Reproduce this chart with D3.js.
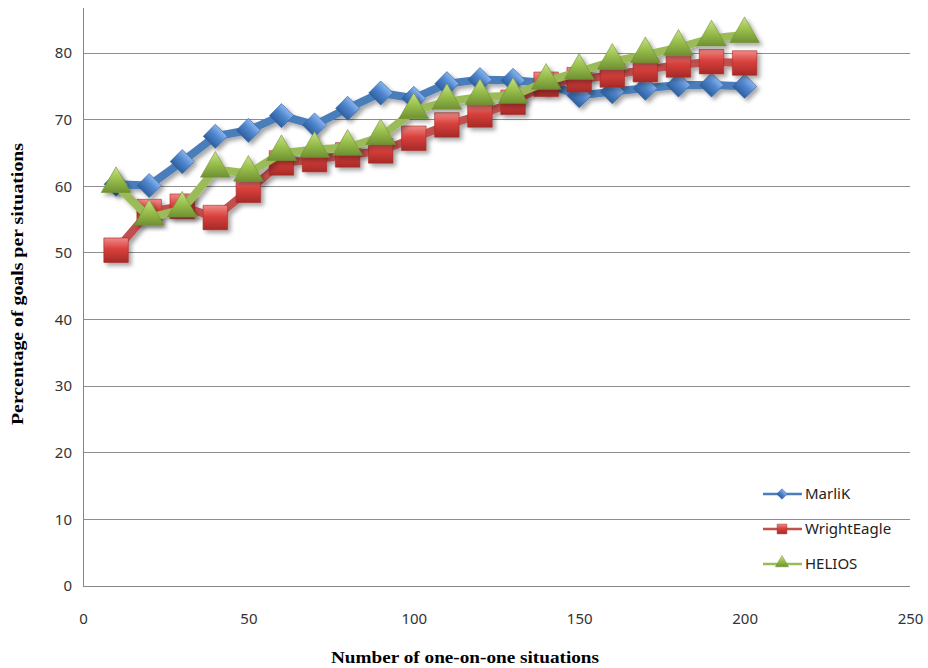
<!DOCTYPE html>
<html><head><meta charset="utf-8">
<script src="https://cdn.jsdelivr.net/npm/d3@7"></script>
<style>body{margin:0;background:#fff}svg{display:block}</style>
</head><body>
<script>
const xValues = [10,20,30,40,50,60,70,80,90,100,110,120,130,140,150,160,170,180,190,200];
const marlik = [60.3,60.1,63.7,67.5,68.4,70.6,69.2,71.7,74.0,73.2,75.4,76.0,75.9,75.5,73.6,74.2,74.7,75.2,75.2,75.0];
const wrightEagle = [50.4,56.2,57.0,55.3,59.4,63.5,64.0,64.7,65.3,67.2,69.2,70.7,72.6,75.3,76.0,76.7,77.5,78.2,78.7,78.5];
const helios = [60.2,55.3,56.5,62.5,61.9,65.0,65.5,65.8,67.4,71.3,72.7,73.4,73.6,75.7,77.2,78.7,79.7,80.8,82.2,82.7];
const seriesNames = ["MarliK","WrightEagle","HELIOS"];
const xTicks = [0,50,100,150,200,250];
const yTicks = [0,10,20,30,40,50,60,70,80];

const W = 928, H = 668;
const svg = d3.select("body").append("svg").attr("width", W).attr("height", H);
const x = d3.scaleLinear([0,250],[83,910]);
const y = d3.scaleLinear([0,80],[586,53]);

const defs = svg.append("defs");
const f = defs.append("filter").attr("id","sh").attr("x","-30%").attr("y","-30%").attr("width","160%").attr("height","160%");
f.append("feDropShadow").attr("dx",3).attr("dy",3).attr("stdDeviation",2).attr("flood-color","#000").attr("flood-opacity",0.35);

const styles = [
  {line:"#4a7ebb", g:["#8ab4ec","#4f86cf","#2f5f9e"], sym:"diamond"},
  {line:"#c0504d", g:["#f08a86","#d9403c","#a52a27"], sym:"square"},
  {line:"#9bbb59", g:["#c9e08e","#9cc24e","#6f9132"], sym:"triangle"}
];
styles.forEach((s,i)=>{
  const lg = defs.append("linearGradient").attr("id","g"+i).attr("x1",0).attr("y1",0).attr("x2",0).attr("y2",1);
  lg.append("stop").attr("offset","0%").attr("stop-color",s.g[0]);
  lg.append("stop").attr("offset","45%").attr("stop-color",s.g[1]);
  lg.append("stop").attr("offset","100%").attr("stop-color",s.g[2]);
});

// gridlines
svg.append("g").selectAll("line").data(yTicks.filter(d=>d>0)).join("line")
  .attr("x1",x(0)).attr("x2",x(250)).attr("y1",d=>y(d)).attr("y2",d=>y(d))
  .attr("stroke","#8e8e8e").attr("stroke-width",1).attr("shape-rendering","crispEdges");

// axes
const font = "'Noto Sans', 'DejaVu Sans', sans-serif";
const yAxis = svg.append("g").attr("transform",`translate(${x(0)},0)`)
  .call(d3.axisLeft(y).tickValues(yTicks).tickSize(0).tickPadding(11).tickFormat(d3.format("d")));
yAxis.select(".domain").remove();
const xAxis = svg.append("g").attr("transform",`translate(0,${y(0)})`)
  .call(d3.axisBottom(x).tickValues(xTicks).tickSize(0).tickPadding(27).tickFormat(d3.format("d")));
xAxis.select(".domain").remove();
svg.selectAll(".tick text").attr("font-family",font).attr("font-size",15).attr("fill","#333");

svg.append("line").attr("x1",x(0)).attr("x2",x(0)).attr("y1",8).attr("y2",y(0))
  .attr("stroke","#868686").attr("shape-rendering","crispEdges");
svg.append("line").attr("x1",x(0)).attr("x2",x(250)).attr("y1",y(0)).attr("y2",y(0))
  .attr("stroke","#868686").attr("shape-rendering","crispEdges");

// titles
svg.append("text").attr("x",465).attr("y",663).attr("text-anchor","middle")
  .attr("font-family","'Liberation Serif', 'Times New Roman', serif").attr("font-weight","bold")
  .attr("font-size",16).attr("textLength",268).attr("lengthAdjust","spacingAndGlyphs")
  .text("Number of one-on-one situations");
svg.append("text").attr("transform","translate(23,284) rotate(-90)").attr("text-anchor","middle")
  .attr("font-family","'Liberation Serif', 'Times New Roman', serif").attr("font-weight","bold")
  .attr("font-size",16).attr("textLength",282).attr("lengthAdjust","spacingAndGlyphs")
  .text("Percentage of goals per situations");

function symPath(type, big){
  if(type==="diamond") return d3.symbol(d3.symbolSquare, big?290:55)();
  if(type==="square") return d3.symbol(d3.symbolSquare, big?600:95)();
  return d3.symbol(d3.symbolTriangle, big?380:75)();
}
function symTransform(type, px, py){
  if(type==="diamond") return `translate(${px},${py}) rotate(45)`;
  if(type==="triangle") return `translate(${px},${py-1})`;
  return `translate(${px},${py})`;
}

const allSeries = [marlik, wrightEagle, helios];
const line = d3.line().x((d,i)=>x(xValues[i])).y(d=>y(d));
allSeries.forEach((vals,i)=>{
  const s = styles[i];
  const g = svg.append("g").attr("filter","url(#sh)");
  g.append("path").datum(vals).attr("d",line).attr("fill","none")
    .attr("stroke",s.line).attr("stroke-width",8).attr("stroke-linejoin","round");
  g.selectAll("path.m").data(vals).join("path").attr("class","m")
    .attr("d",symPath(s.sym,true))
    .attr("transform",(d,j)=>symTransform(s.sym,x(xValues[j]),y(d)))
    .attr("fill",`url(#g${i})`).attr("stroke",s.g[2]).attr("stroke-width",0.6);
});

// legend
const legY = [494,529,564];
seriesNames.forEach((n,i)=>{
  const s = styles[i];
  const g = svg.append("g");
  g.append("line").attr("x1",763).attr("x2",802).attr("y1",legY[i]).attr("y2",legY[i])
    .attr("stroke",s.line).attr("stroke-width",2.5);
  g.append("path").attr("d",symPath(s.sym,false))
    .attr("transform",symTransform(s.sym,782,legY[i]))
    .attr("fill",`url(#g${i})`).attr("stroke",s.g[2]).attr("stroke-width",0.5);
  g.append("text").attr("x",805).attr("y",legY[i]+5).attr("font-family",font)
    .attr("font-size",15).attr("fill","#222").text(n);
});
</script>
</body></html>
